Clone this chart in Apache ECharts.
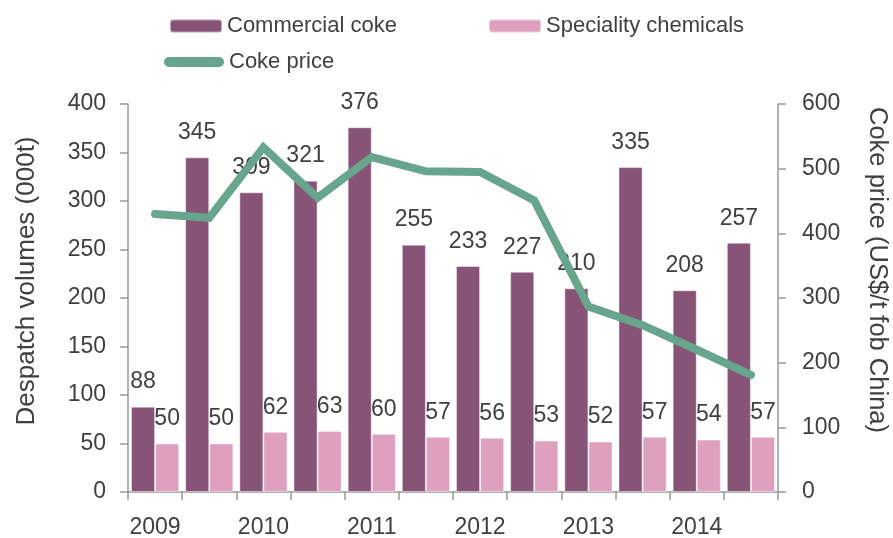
<!DOCTYPE html>
<html>
<head>
<meta charset="utf-8">
<script src="https://cdn.jsdelivr.net/npm/echarts@6/dist/echarts.min.js"></script>
<style>
html,body{margin:0;padding:0;background:#fff;}
#c{width:893px;height:538px;}
</style>
</head>
<body>
<div id="c"></div>
<script>
var categories = ['H1 2009','H2 2009','H1 2010','H2 2010','H1 2011','H2 2011','H1 2012','H2 2012','H1 2013','H2 2013','H1 2014','H2 2014'];
var commercialCoke = [88, 345, 309, 321, 376, 255, 233, 227, 210, 335, 208, 257];
var specialityChemicals = [50, 50, 62, 63, 60, 57, 56, 53, 52, 57, 54, 57];
var cokePrice = [430, 424, 533, 455, 518, 496, 495, 451, 287, 258, 220, 181];

var FONT = '"Liberation Sans", Arial, sans-serif';
var TXT = '#404040';
var AX = '#999999';
var FS = 22;

var chart = echarts.init(document.getElementById('c'), null, {renderer: 'canvas'});
chart.setOption({
  animation: false,
  textStyle: {fontFamily: FONT, color: TXT},
  legend: [
    {data: ['Commercial coke'], left: 169, top: 15, padding: 0, itemWidth: 52, itemHeight: 13, itemGap: 5,
     textStyle: {fontFamily: FONT, fontSize: FS, color: TXT}},
    {data: ['Speciality chemicals'], left: 488, top: 15, padding: 0, itemWidth: 52, itemHeight: 13,
     textStyle: {fontFamily: FONT, fontSize: FS, color: TXT}},
    {data: [{name: 'Coke price', icon: 'path://M5,0 L55,0 A5,5 0 0 1 55,10 L5,10 A5,5 0 0 1 5,0 Z'}],
     left: 164, top: 51, padding: 0, itemWidth: 60, itemHeight: 10,
     textStyle: {fontFamily: FONT, fontSize: FS, color: TXT}}
  ],
  grid: {left: 128, right: 115, top: 104, bottom: 46, containLabel: false, outerBoundsMode: 'none'},
  xAxis: {
    type: 'category',
    data: categories,
    axisLine: {lineStyle: {color: AX, width: 1.5}},
    axisTick: {show: true, interval: 0, length: 8, lineStyle: {color: AX, width: 1.5}},
    axisLabel: {interval: 1, fontSize: 23, color: TXT, fontFamily: FONT, margin: 24,
      formatter: function (v) { return v.split(' ')[1]; }}
  },
  yAxis: [
    {
      type: 'value', min: 0, max: 400, interval: 50,
      name: 'Despatch volumes (000t)', nameLocation: 'middle', nameGap: 88, nameRotate: 90,
      nameTextStyle: {fontSize: 26, color: TXT, fontFamily: FONT, padding: [0, 0, 0, 34]},
      axisLine: {show: true, lineStyle: {color: AX, width: 1.5}},
      axisTick: {show: true, length: 8, lineStyle: {color: AX, width: 1.5}},
      splitLine: {show: false},
      axisLabel: {fontSize: 23, color: TXT, fontFamily: FONT, margin: 22}
    },
    {
      type: 'value', min: 0, max: 600, interval: 100, position: 'right',
      name: 'Coke price (US$/t fob China)', nameLocation: 'middle', nameGap: 86, nameRotate: -90,
      nameTextStyle: {fontSize: 25.5, color: TXT, fontFamily: FONT, padding: [0, 56, 0, 0]},
      axisLine: {show: true, lineStyle: {color: AX, width: 1.5}},
      axisTick: {show: true, length: 8, lineStyle: {color: AX, width: 1.5}},
      splitLine: {show: false},
      axisLabel: {fontSize: 23, color: TXT, fontFamily: FONT, margin: 24}
    }
  ],
  series: [
    {
      name: 'Commercial coke', type: 'bar', data: commercialCoke, yAxisIndex: 0,
      barGap: '0%', barCategoryGap: '11%',
      itemStyle: {color: '#875478', borderColor: 'rgba(255,255,255,0.45)', borderWidth: 1},
      label: {show: true, position: 'top', distance: 13, fontSize: 23, color: TXT, fontFamily: FONT}
    },
    {
      name: 'Speciality chemicals', type: 'bar', data: specialityChemicals, yAxisIndex: 0,
      itemStyle: {color: '#dfa0bf', borderColor: 'rgba(255,255,255,0.45)', borderWidth: 1},
      label: {show: true, position: 'top', distance: 13, fontSize: 23, color: TXT, fontFamily: FONT}
    },
    {
      name: 'Coke price', type: 'line', data: cokePrice, yAxisIndex: 1,
      symbol: 'none', showSymbol: false, z: 5,
      itemStyle: {color: '#67a68c'},
      lineStyle: {color: '#67a68c', width: 8, cap: 'round', join: 'miter'}
    }
  ]
});
</script>
</body>
</html>
